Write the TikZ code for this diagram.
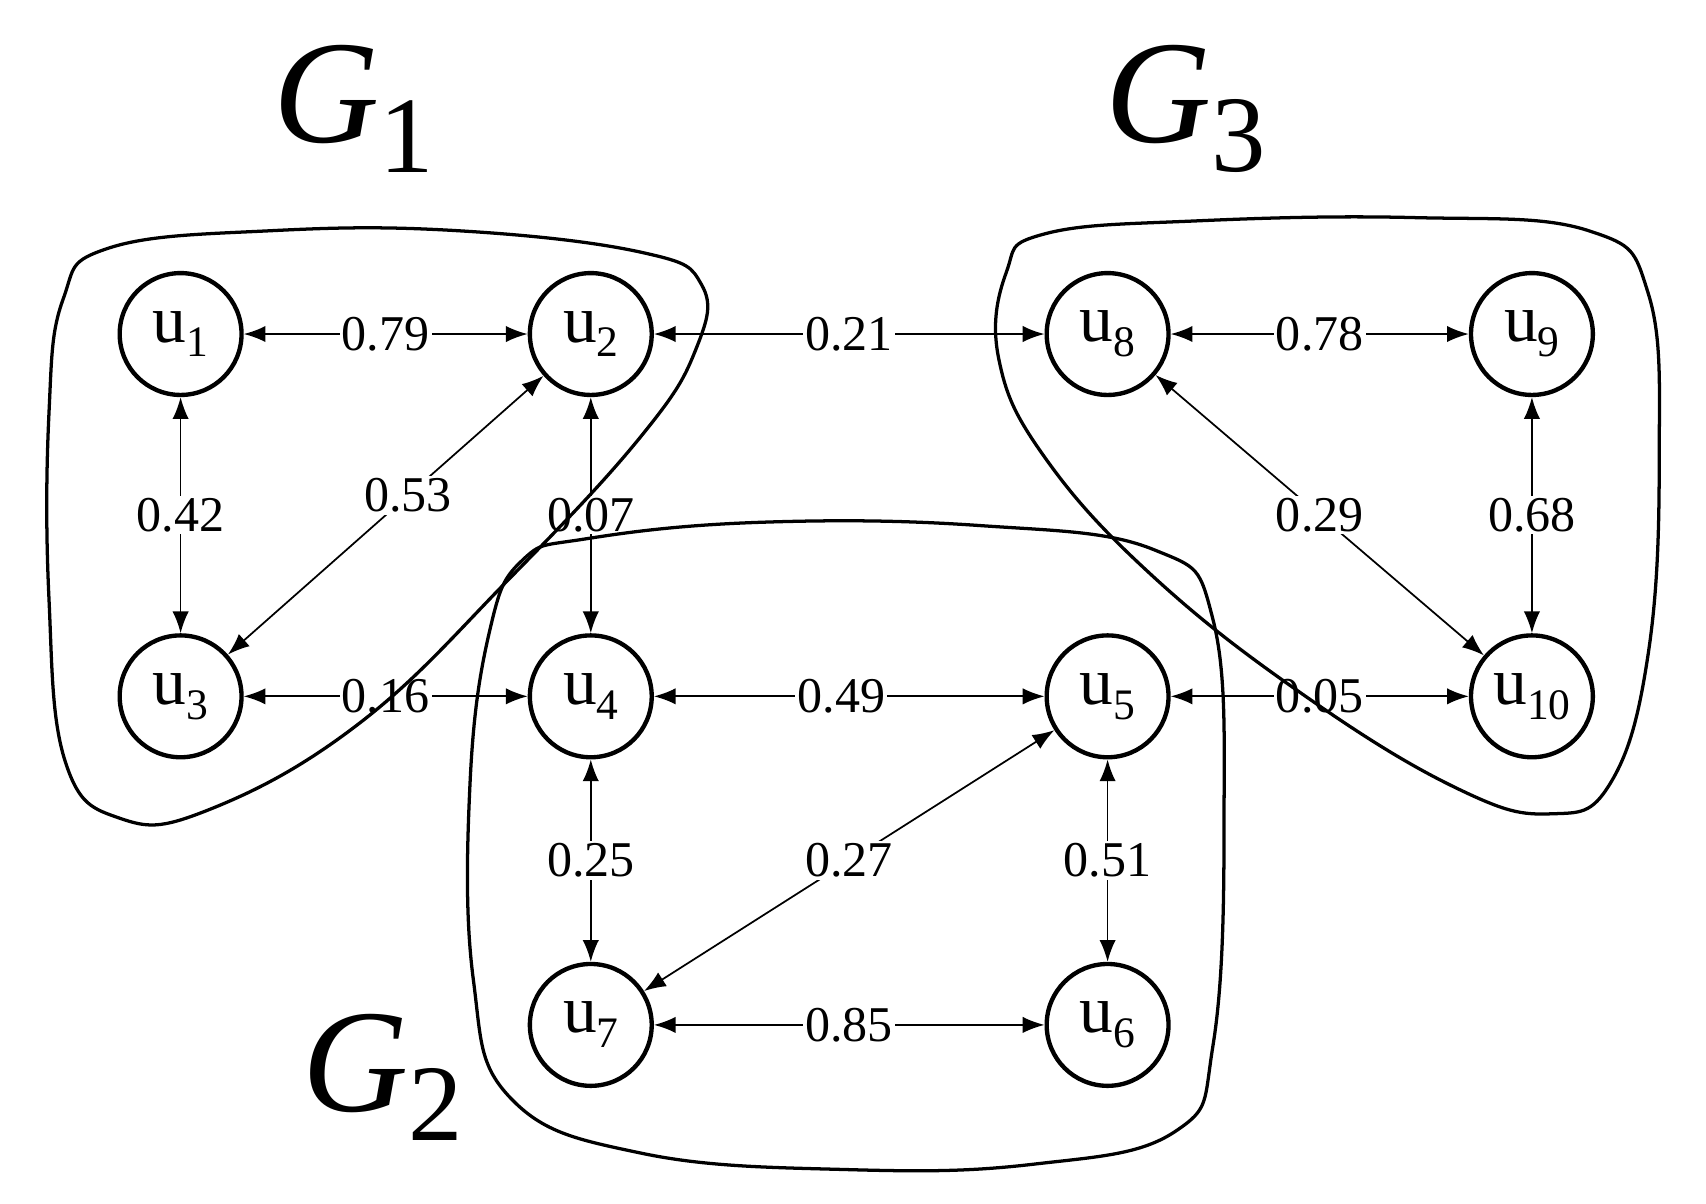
\documentclass[tikz,border=0pt]{standalone}
\usepackage{fontspec}
\setmainfont{Liberation Serif}
\usetikzlibrary{arrows.meta}
\newcommand{\uu}[1]{u\raisebox{-0.22em}{\fontsize{40}{40}\selectfont #1}}
\newcommand{\grp}[1]{\textit{G}\raisebox{-0.2em}{\fontsize{100}{100}\selectfont #1}}
\begin{document}
\begin{tikzpicture}[x=1pt,y=-1pt,
  vert/.style={circle,draw,line width=4pt,minimum size=112pt,inner sep=0pt,font=\fontsize{62}{62}\selectfont},
  edge/.style={line width=1.6pt,{Latex[length=20pt,width=15pt]}-{Latex[length=20pt,width=15pt]}},
  lab/.style={fill=white,inner sep=2pt,font=\fontsize{46}{48}\selectfont},
  blob/.style={line width=3pt},
  glab/.style={font=\fontsize{135}{135}\selectfont}]
\useasboundingbox (0,0) rectangle (1568,1106);
\node[vert] (u1) at (166,307) {\uu{1}};
\node[vert] (u2) at (543,307) {\uu{2}};
\node[vert] (u3) at (166,640) {\uu{3}};
\node[vert] (u4) at (543,640) {\uu{4}};
\node[vert] (u5) at (1018,640) {\uu{5}};
\node[vert] (u6) at (1018,942) {\uu{6}};
\node[vert] (u7) at (543,942) {\uu{7}};
\node[vert] (u8) at (1018,307) {\uu{8}};
\node[vert] (u9) at (1408,307) {\uu{9}};
\node[vert] (u10) at (1408,640) {\uu{10}};
\draw[edge] (u1) -- node[lab]{0.79} (u2);
\draw[edge] (u2) -- node[lab,pos=0.5]{0.21} (u8);
\draw[edge] (u8) -- node[lab]{0.78} (u9);
\draw[edge] (u1) -- node[lab]{0.42} (u3);
\draw[edge] (u2) -- node[lab,pos=0.43]{0.53} (u3);
\draw[edge] (u2) -- node[lab]{0.07} (u4);
\draw[edge] (u8) -- node[lab,pos=0.5]{0.29} (u10);
\draw[edge] (u9) -- node[lab]{0.68} (u10);
\draw[edge] (u3) -- node[lab]{0.16} (u4);
\draw[edge] (u4) -- node[lab,pos=0.48]{0.49} (u5);
\draw[edge] (u5) -- node[lab]{0.05} (u10);
\draw[edge] (u4) -- node[lab]{0.25} (u7);
\draw[edge] (u5) -- node[lab,pos=0.5]{0.27} (u7);
\draw[edge] (u5) -- node[lab]{0.51} (u6);
\draw[edge] (u7) -- node[lab,pos=0.5]{0.85} (u6);
\draw[blob] plot[smooth cycle,tension=0.7] coordinates {(100,228) (250,212) (420,212) (590,232) (645,262) (640,320) (590,400) (470,530) (330,665) (190,745) (110,752) (60,700) (45,550) (45,380) (58,275)};
\draw[blob] plot[smooth cycle,tension=0.7] coordinates {(960,215) (1100,203) (1300,200) (1460,212) (1515,270) (1525,420) (1515,600) (1480,720) (1425,748) (1340,725) (1200,640) (1060,530) (960,420) (918,330) (925,250)};
\draw[blob] plot[smooth cycle,tension=0.7] coordinates {(540,495) (700,480) (900,483) (1060,505) (1115,570) (1125,760) (1115,960) (1080,1040) (950,1070) (780,1075) (590,1060) (470,1010) (435,900) (432,720) (450,580) (480,515)};
\node[glab] (g1) at (325,100) {\grp{1}};
\node[glab] (g3) at (1090,100) {\grp{3}};
\node[glab] (g2) at (352,990) {\grp{2}};
\end{tikzpicture}
\end{document}
